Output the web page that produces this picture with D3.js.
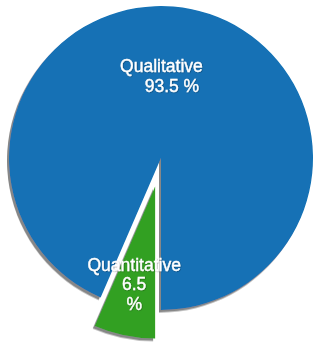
<!DOCTYPE html>
<html>
<head>
<meta charset="utf-8">
<script src="https://cdn.jsdelivr.net/npm/d3@7"></script>
<style>
  html, body { margin: 0; padding: 0; background: #fff; }
  svg { display: block; }
  text { font-family: "Liberation Sans", Arial, sans-serif; fill: #fff; stroke: #fff; stroke-width: 0.35px; }
</style>
</head>
<body>
<svg id="chart" width="319" height="349"></svg>
<script>
const categories = ["Qualitative", "Quantitative"];
const values = [93.5, 6.5];
const labelLines = [["Qualitative", "93.5 %"], ["Quantitative", "6.5", "%"]];
const colors = ["#1271b5", "#30a024"];

const W = 319, H = 349;
const cx = 161, cy = 158, R = 152;
const explode = [0, 29];

const svg = d3.select("#chart");
const defs = svg.append("defs");
const f = defs.append("filter").attr("id", "sh").attr("x", "-20%").attr("y", "-20%").attr("width", "140%").attr("height", "140%");
f.append("feDropShadow").attr("dx", -2).attr("dy", 2.5).attr("stdDeviation", 0.6)
  .attr("flood-color", "#7a7a7a").attr("flood-opacity", 0.9);

const tf = defs.append("filter").attr("id", "tsh");
tf.append("feDropShadow").attr("dx", 0.5).attr("dy", 0.5).attr("stdDeviation", 0.5)
  .attr("flood-color", "#000").attr("flood-opacity", 0.45);

const total = d3.sum(values);
const qFrac = values[1] / total;
const pie = d3.pie().sort(null)
  .startAngle(-Math.PI + qFrac * 2 * Math.PI)
  .endAngle(Math.PI + qFrac * 2 * Math.PI);
const arcs = pie(values);
const arc = d3.arc().innerRadius(0).outerRadius(R);

const g = svg.append("g").attr("transform", `translate(${cx},${cy})`);

const slice = g.selectAll("g.slice").data(arcs).enter().append("g")
  .attr("class", "slice")
  .attr("transform", (d, i) => {
    const m = (d.startAngle + d.endAngle) / 2;
    const o = explode[i];
    return `translate(${Math.sin(m) * o},${-Math.cos(m) * o})`;
  });

slice.append("path")
  .attr("d", arc)
  .attr("fill", (d, i) => colors[i])
  .attr("filter", "url(#sh)");

const labelR = [0.5 * R, 0.68 * R];
const lineDx = [[-15, -4.5], [0, 0, 0]];
const lineDy = [-1.5, 2.5];
const lineH = 19.5;
slice.each(function (d, i) {
  const m = (d.startAngle + d.endAngle) / 2;
  const lx = Math.sin(m) * labelR[i];
  const ly = -Math.cos(m) * labelR[i];
  const lines = labelLines[i];
  const t = d3.select(this).append("text")
    .attr("text-anchor", "middle")
    .attr("font-size", 17.5)
    .attr("filter", "url(#tsh)");
  lines.forEach((s, k) => {
    t.append("tspan")
      .attr("x", lx + lineDx[i][k])
      .attr("y", ly + (k - (lines.length - 1) / 2) * lineH + lineDy[i])
      .text(s);
  });
});
</script>
</body>
</html>
